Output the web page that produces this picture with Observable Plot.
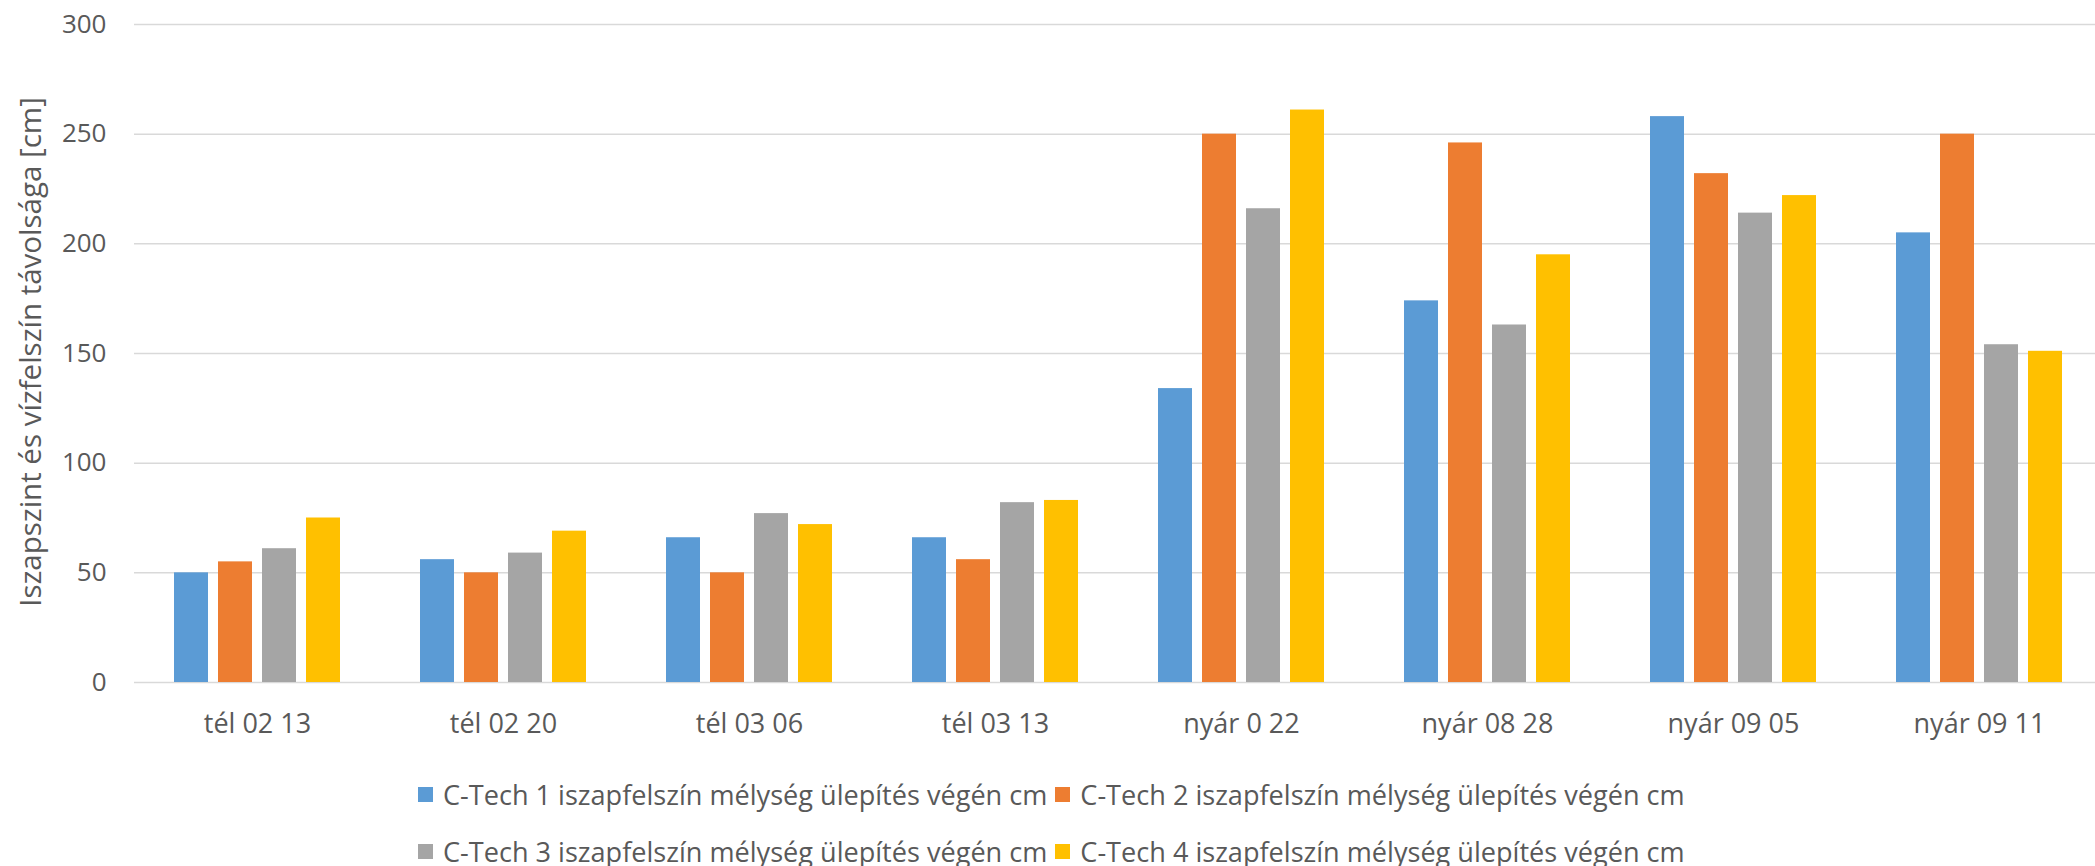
<!DOCTYPE html>
<html>
<head>
<meta charset="utf-8">
<script src="https://cdn.jsdelivr.net/npm/d3@7"></script>
<script src="https://cdn.jsdelivr.net/npm/@observablehq/plot@0.6"></script>
<style>
  html, body { margin: 0; padding: 0; background: #fff; overflow: hidden; }
  #wrap { position: relative; width: 2095px; height: 866px; font-family: "Open Sans", sans-serif; color: #595959; }
  #ytitle { position: absolute; left: 29px; top: 352px; transform: translate(-50%, -50%) rotate(-90deg); white-space: nowrap; font-size: 29.5px; }
  #legend { position: absolute; top: 766px; left: 418px; display: grid; grid-template-columns: auto auto; justify-content: start; line-height: 57px; font-size: 27.1px; column-gap: 8px; }
  #legend .item { display: flex; align-items: center; white-space: nowrap; }
  #legend .sw { width: 15px; height: 15px; margin-right: 10px; display: inline-block; }
</style>
</head>
<body>
<div id="wrap">
  <div id="chart"></div>
  <div id="ytitle">Iszapszint és vízfelszín távolsága [cm]</div>
  <div id="legend"></div>
</div>
<script>
const categories = ["tél 02 13", "tél 02 20", "tél 03 06", "tél 03 13", "nyár 0 22", "nyár 08 28", "nyár 09 05", "nyár 09 11"];
const seriesNames = [
  "C-Tech 1 iszapfelszín mélység ülepítés végén cm",
  "C-Tech 2 iszapfelszín mélység ülepítés végén cm",
  "C-Tech 3 iszapfelszín mélység ülepítés végén cm",
  "C-Tech 4 iszapfelszín mélység ülepítés végén cm"
];
const ctech1 = [50, 56, 66, 66, 134, 174, 258, 205];
const ctech2 = [55, 50, 50, 56, 250, 246, 232, 250];
const ctech3 = [61, 59, 77, 82, 216, 163, 214, 154];
const ctech4 = [75, 69, 72, 83, 261, 195, 222, 151];
const yTicks = [0, 50, 100, 150, 200, 250, 300];
const colors = ["#5B9BD5", "#ED7D31", "#A5A5A5", "#FFC000"];

const values = [ctech1, ctech2, ctech3, ctech4];
const data = categories.flatMap((c, i) => seriesNames.map((s, j) => ({cat: c, series: s, value: values[j][i]})));

const chart = Plot.plot({
  width: 2095,
  height: 752,
  marginLeft: 132,
  marginRight: 0,
  marginTop: 24,
  marginBottom: 70,
  style: {fontFamily: "'Open Sans', sans-serif", fontSize: "26px", color: "#595959", background: "#fff", overflow: "hidden"},
  fx: {domain: categories, padding: 0, range: [132, 2104], label: null, axis: null},
  x: {domain: seriesNames, paddingInner: 0.222, paddingOuter: 0.85, axis: null},
  y: {domain: [0, 300], label: null},
  color: {domain: seriesNames, range: colors},
  marks: [
    Plot.gridY(yTicks, {stroke: "#d9d9d9", strokeOpacity: 1, strokeWidth: 1.5}),
    Plot.axisY(yTicks, {tickSize: 0, tickPadding: 28, label: null, fill: "#595959"}),
    Plot.axisFx({anchor: "bottom", tickSize: 0, tickPadding: 31, label: null, fill: "#595959", fontSize: 27}),
    Plot.barY(data, {fx: "cat", x: "series", y: "value", fill: "series"})
  ]
});
document.getElementById("chart").appendChild(chart);

const legend = d3.select("#legend");
seriesNames.forEach((s, i) => {
  const it = legend.append("div").attr("class", "item");
  it.append("span").attr("class", "sw").style("background", colors[i]);
  it.append("span").text(s);
});
</script>
</body>
</html>
